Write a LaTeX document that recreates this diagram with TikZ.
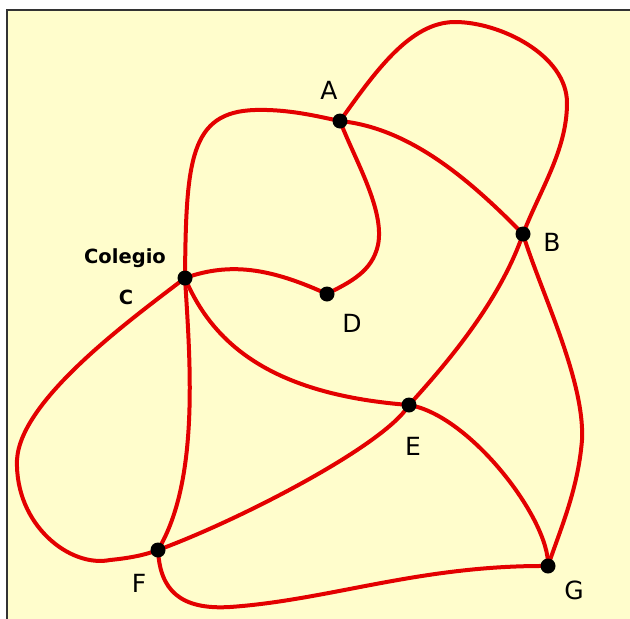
\documentclass[tikz,border=0pt]{standalone}
\usepackage{fontspec}
\setmainfont{DejaVu Sans}
\pgfdeclarelayer{paper}
\pgfdeclarelayer{edges}
\pgfsetlayers{paper,edges,main}
\definecolor{paperyellow}{HTML}{FFFDCC}
\definecolor{routered}{HTML}{E30000}
\begin{document}
\begin{tikzpicture}[x=1pt,y=-1pt,
  dot/.style={circle,fill=black,inner sep=0pt,minimum size=15pt},
  lab/.style={font=\fontsize{25}{25}\selectfont,anchor=base,inner sep=0pt},
  boldlab/.style={font=\fontsize{19.5}{19.5}\selectfont\bfseries,anchor=base,inner sep=0pt},
  route/.style={draw=routered,line width=4pt,line cap=round}]
\useasboundingbox (0,0) rectangle (630,619);
\begin{pgfonlayer}{paper}
  \fill[paperyellow] (7,10) rectangle (630,619);
  \draw[line width=2.2pt,black!80] (7,619) -- (7,10) -- (630,10);
\end{pgfonlayer}
% places
\node[dot] (A) at (340,121) {};
\node[dot] (B) at (523,234) {};
\node[dot] (C) at (185,278) {};
\node[dot] (D) at (327,294) {};
\node[dot] (E) at (409,405) {};
\node[dot] (F) at (158,550) {};
\node[dot] (G) at (548,566) {};
% labels
\node[lab] (lA) at (329,99) {A};
\node[lab] (lB) at (552,251) {B};
\node[lab] (lD) at (352,332) {D};
\node[lab] (lE) at (413,455) {E};
\node[lab] (lF) at (139,592) {F};
\node[lab] (lG) at (574,599) {G};
\node[boldlab] (lCol) at (125,263) {Colegio};
\node[boldlab] (lC) at (126,304) {C};
% routes
\begin{pgfonlayer}{edges}
  \draw[route] (A.center) .. controls (375,72) and (410,22) .. (455,22)
    .. controls (500,22) and (567,55) .. (567,103)
    .. controls (567,150) and (540,190) .. (B.center);
  \draw[route] (C.center) .. controls (186,160) and (190,112) .. (255,110)
    .. controls (290,109) and (320,117) .. (A.center);
  \draw[route] (A.center) .. controls (355,160) and (385,210) .. (378,245)
    .. controls (372,272) and (350,282) .. (D.center);
  \draw[route] (A.center) .. controls (410,128) and (470,180) .. (B.center);
  \draw[route] (B.center) .. controls (500,300) and (450,360) .. (E.center);
  \draw[route] (B.center) .. controls (540,290) and (585,380) .. (582,440)
    .. controls (578,490) and (560,530) .. (G.center);
  \draw[route] (C.center) .. controls (230,262) and (270,268) .. (D.center);
  \draw[route] (C.center) .. controls (215,350) and (280,395) .. (E.center);
  \draw[route] (C.center) .. controls (130,320) and (20,400) .. (17,460)
    .. controls (15,525) and (70,568) .. (110,560)
    .. controls (130,558) and (145,555) .. (F.center);
  \draw[route] (C.center) .. controls (190,360) and (200,480) .. (F.center);
  \draw[route] (E.center) .. controls (385,445) and (240,520) .. (F.center);
  \draw[route] (E.center) .. controls (470,415) and (550,520) .. (G.center);
  \draw[route] (F.center) .. controls (160,590) and (180,610) .. (230,607)
    .. controls (330,600) and (420,565) .. (G.center);
\end{pgfonlayer}
\end{tikzpicture}
\end{document}
